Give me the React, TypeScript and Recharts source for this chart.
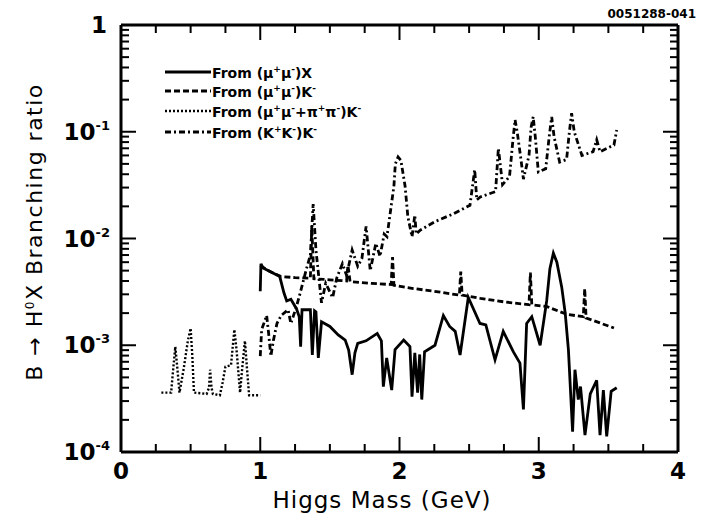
import React from 'react';
import { ComposedChart, Line, XAxis, YAxis, ReferenceLine } from 'recharts';

// ---- data (Higgs mass in GeV, branching ratio) ----
const incMass = [1.0, 1.005, 1.02, 1.07, 1.14, 1.17, 1.19, 1.22, 1.26, 1.28, 1.29, 1.3, 1.36, 1.374, 1.39, 1.4, 1.417, 1.44, 1.5, 1.56, 1.61, 1.635, 1.66, 1.68, 1.7, 1.76, 1.84, 1.87, 1.884, 1.908, 1.944, 1.968, 2.03, 2.075, 2.09, 2.11, 2.13, 2.145, 2.16, 2.18, 2.255, 2.315, 2.36, 2.4, 2.435, 2.494, 2.578, 2.62, 2.686, 2.745, 2.817, 2.865, 2.89, 2.913, 2.95, 3.01, 3.057, 3.08, 3.105, 3.13, 3.165, 3.19, 3.213, 3.243, 3.26, 3.284, 3.3, 3.332, 3.37, 3.416, 3.44, 3.464, 3.488, 3.52, 3.56];
const incBR = [3.2e-3, 5.8e-3, 5.3e-3, 4.9e-3, 4.4e-3, 3.1e-3, 2.6e-3, 2.7e-3, 2.2e-3, 1.85e-3, 9.7e-4, 2.15e-3, 2.15e-3, 8.1e-4, 2.1e-3, 2.05e-3, 7.6e-4, 1.66e-3, 1.5e-3, 1.25e-3, 1.12e-3, 9e-4, 5.3e-4, 8.5e-4, 1.04e-3, 1.1e-3, 1.29e-3, 1.1e-3, 4.1e-4, 7.6e-4, 3.8e-4, 9.1e-4, 1.12e-3, 9.7e-4, 3.3e-4, 8.5e-4, 3.6e-4, 8.2e-4, 3.1e-4, 8.7e-4, 1.0e-3, 1.9e-3, 1.5e-3, 1.35e-3, 8.1e-4, 2.8e-3, 1.6e-3, 1.55e-3, 7.3e-4, 1.35e-3, 8.7e-4, 6.8e-4, 2.5e-4, 1.6e-3, 1.85e-3, 1.0e-3, 2.6e-3, 5.2e-3, 7.3e-3, 6.0e-3, 3.5e-3, 2.0e-3, 9.1e-4, 1.55e-4, 5.9e-4, 3.1e-4, 4.1e-4, 1.44e-4, 3.5e-4, 4.7e-4, 1.44e-4, 3.8e-4, 1.4e-4, 3.7e-4, 4.0e-4];

const muKMass = [1.0, 1.07, 1.15, 1.25, 1.36, 1.37, 1.385, 1.5, 1.62, 1.63, 1.645, 1.8, 1.94, 1.95, 1.96, 2.1, 2.25, 2.43, 2.44, 2.45, 2.58, 2.75, 2.93, 2.94, 2.95, 3.06, 3.2, 3.32, 3.33, 3.34, 3.45, 3.54];
const muKBR = [5.6e-3, 4.9e-3, 4.4e-3, 4.3e-3, 4.25e-3, 1.3e-2, 4.2e-3, 4.1e-3, 4.0e-3, 5.6e-3, 3.95e-3, 3.8e-3, 3.7e-3, 6.7e-3, 3.65e-3, 3.4e-3, 3.2e-3, 2.95e-3, 4.9e-3, 2.95e-3, 2.75e-3, 2.55e-3, 2.4e-3, 4.8e-3, 2.4e-3, 2.3e-3, 1.95e-3, 1.85e-3, 3.4e-3, 1.8e-3, 1.6e-3, 1.45e-3];

const pipiMass = [0.29, 0.36, 0.375, 0.39, 0.405, 0.42, 0.45, 0.48, 0.5, 0.512, 0.524, 0.615, 0.632, 0.64, 0.65, 0.66, 0.71, 0.73, 0.75, 0.79, 0.814, 0.83, 0.855, 0.87, 0.89, 0.905, 0.92, 1.0];
const pipiBR = [3.6e-4, 3.6e-4, 6e-4, 9.7e-4, 6e-4, 3.6e-4, 6e-4, 1.1e-3, 1.44e-3, 8e-4, 3.6e-4, 3.5e-4, 4e-4, 5.9e-4, 4e-4, 3.5e-4, 3.4e-4, 4.5e-4, 6.3e-4, 6.5e-4, 1.4e-3, 9e-4, 3.6e-4, 6e-4, 1.1e-3, 6e-4, 3.4e-4, 3.4e-4];

const kkMass = [1.0, 1.01, 1.046, 1.06, 1.076, 1.094, 1.12, 1.15, 1.2, 1.22, 1.26, 1.29, 1.33, 1.36, 1.38, 1.4, 1.44, 1.47, 1.52, 1.55, 1.59, 1.62, 1.66, 1.7, 1.73, 1.76, 1.79, 1.83, 1.86, 1.89, 1.91, 1.94, 1.96, 1.97, 1.99, 2.01, 2.04, 2.06, 2.09, 2.11, 2.12, 2.15, 2.255, 2.386, 2.506, 2.54, 2.555, 2.58, 2.69, 2.71, 2.74, 2.79, 2.815, 2.83, 2.845, 2.87, 2.89, 2.93, 2.945, 2.96, 2.975, 2.997, 3.05, 3.075, 3.093, 3.11, 3.15, 3.2, 3.22, 3.236, 3.255, 3.31, 3.39, 3.416, 3.44, 3.51, 3.54, 3.56];
const kkBR = [7.9e-4, 1.4e-3, 1.9e-3, 1.3e-3, 7.9e-4, 1.1e-3, 1.6e-3, 1.9e-3, 2.15e-3, 1.6e-3, 2.3e-3, 3.2e-3, 5.1e-3, 7e-3, 2.1e-2, 7.8e-3, 2.5e-3, 3.8e-3, 2.8e-3, 4.3e-3, 5.8e-3, 4.5e-3, 7.8e-3, 5.5e-3, 6.5e-3, 1.3e-2, 5e-3, 9e-3, 6.8e-3, 1.1e-2, 1.04e-2, 2e-2, 3.1e-2, 5.0e-2, 5.8e-2, 5.4e-2, 3.1e-2, 1.6e-2, 1.04e-2, 1.66e-2, 1.1e-2, 1.2e-2, 1.44e-2, 1.7e-2, 2.05e-2, 4.4e-2, 2.3e-2, 2.45e-2, 2.75e-2, 7e-2, 3.2e-2, 3.8e-2, 8.5e-2, 0.129, 1.0e-1, 5.8e-2, 3.6e-2, 6e-2, 1.1e-1, 0.138, 9e-2, 4.2e-2, 4.5e-2, 9e-2, 0.138, 9e-2, 5.2e-2, 5.5e-2, 1.0e-1, 0.149, 1.0e-1, 6e-2, 6.5e-2, 8.4e-2, 6.5e-2, 7.2e-2, 7.5e-2, 0.104];

// ---- axes ----
const xLabelTicks = [0, 1, 2, 3, 4];
const xMajorInner = [1, 2, 3];
const xMinorInner = [0.25, 0.5, 0.75, 1.25, 1.5, 1.75, 2.25, 2.5, 2.75, 3.25, 3.5, 3.75];
const yDecades = [1e-4, 1e-3, 1e-2, 1e-1, 1];
const yDecadeExp = ['-4', '-3', '-2', '-1', ''];
const yMajorInner = [1e-3, 1e-2, 1e-1];
const yMinorMult = [2, 3, 4, 5, 6, 7, 8, 9];
const yMinorInner = yDecades.slice(0, 4).flatMap((d) => yMinorMult.map((m) => m * d));

const X_MIN = 0, X_MAX = 4, Y_MIN = 1e-4, Y_MAX = 1;
const PLOT_W = 557, PLOT_H = 427; // plot area in pixels
const MAJOR_LEN = 15, MINOR_LEN = 8; // tick lengths in pixels
// tick lengths expressed in axis units
const xSpan = (px: number) => (px / PLOT_W) * (X_MAX - X_MIN);
const yFactor = (px: number) => Math.pow(10, (px / PLOT_H) * Math.log10(Y_MAX / Y_MIN));

type Seg = { key: string; a: { x: number; y: number }; b: { x: number; y: number } };
const tickSegments: Seg[] = [
  ...xMajorInner.flatMap((x) => [
    { key: `bM${x}`, a: { x, y: Y_MIN }, b: { x, y: Y_MIN * yFactor(MAJOR_LEN) } },
    { key: `tM${x}`, a: { x, y: Y_MAX }, b: { x, y: Y_MAX / yFactor(MAJOR_LEN) } },
  ]),
  ...xMinorInner.flatMap((x) => [
    { key: `bm${x}`, a: { x, y: Y_MIN }, b: { x, y: Y_MIN * yFactor(MINOR_LEN) } },
    { key: `tm${x}`, a: { x, y: Y_MAX }, b: { x, y: Y_MAX / yFactor(MINOR_LEN) } },
  ]),
  ...yMajorInner.flatMap((y) => [
    { key: `lM${y}`, a: { x: X_MIN, y }, b: { x: X_MIN + xSpan(MAJOR_LEN), y } },
    { key: `rM${y}`, a: { x: X_MAX, y }, b: { x: X_MAX - xSpan(MAJOR_LEN), y } },
  ]),
  ...yMinorInner.flatMap((y) => [
    { key: `lm${y}`, a: { x: X_MIN, y }, b: { x: X_MIN + xSpan(MINOR_LEN), y } },
    { key: `rm${y}`, a: { x: X_MAX, y }, b: { x: X_MAX - xSpan(MINOR_LEN), y } },
  ]),
];

const legendItems = [
  { key: 'inc', name: ['From  (μ', '+', 'μ', '-', ')X'], dash: undefined, width: 2.8 },
  { key: 'muK', name: ['From  (μ', '+', 'μ', '-', ')K', '-'], dash: '6 3', width: 2.8 },
  { key: 'pipi', name: ['From  (μ', '+', 'μ', '-', '+π', '+', 'π', '-', ')K', '-'], dash: '2 2', width: 2.4 },
  { key: 'kk', name: ['From  (K', '+', 'K', '-', ')K', '-'], dash: '6 3 2 3', width: 2.8 },
];

const pts = (xs: number[], ys: number[]) => xs.map((x, i) => ({ x, y: ys[i] }));
const incData = pts(incMass, incBR);
const muKData = pts(muKMass, muKBR);
const pipiData = pts(pipiMass, pipiBR);
const kkData = pts(kkMass, kkBR);

const FONT = '"DejaVu Sans", sans-serif';
const near = (a: number, b: number) => Math.abs(a - b) <= Math.abs(b) * 1e-6 + 1e-12;
const frameLine = { stroke: '#000', strokeWidth: 3 };

const XTick = (props: any) => {
  const { x, y, payload } = props;
  return (
    <text x={x} y={y + 27} textAnchor="middle" fontFamily={FONT} fontSize={23} fontWeight="bold" fill="#000">
      {payload.value}
    </text>
  );
};

const YTick = (props: any) => {
  const { x, y, payload } = props;
  const idx = yDecades.findIndex((d) => near(payload.value, d));
  const exp = idx >= 0 ? yDecadeExp[idx] : '';
  if (!exp) {
    return (
      <text x={x - 14} y={y + 8} textAnchor="end" fontFamily={FONT} fontSize={23} fontWeight="bold" fill="#000">1</text>
    );
  }
  return (
    <text x={x - 11} y={y + 8} textAnchor="end" fontFamily={FONT} fontSize={23} fontWeight="bold" fill="#000">
      <tspan>10</tspan>
      <tspan dy={-10} fontSize={13}>{exp}</tspan>
    </text>
  );
};

export default function App() {
  return (
    <div style={{ position: 'relative', width: 690, height: 510 }}>
      <ComposedChart width={690} height={510} margin={{ top: 0, right: 0, left: 0, bottom: 26 }}>
        <XAxis xAxisId="b" dataKey="x" type="number" domain={[X_MIN, X_MAX]} allowDataOverflow ticks={xLabelTicks} interval={0}
          tickLine={false} tickSize={0} tickMargin={0} axisLine={frameLine} tick={<XTick />} height={40} />
        <XAxis xAxisId="t" type="number" domain={[X_MIN, X_MAX]} allowDataOverflow ticks={xLabelTicks} orientation="top"
          tickLine={false} tick={false} axisLine={frameLine} height={17} />
        <YAxis yAxisId="l" dataKey="y" type="number" scale="log" domain={[Y_MIN, Y_MAX]} allowDataOverflow ticks={yDecades} interval={0}
          tickLine={false} tickSize={0} tickMargin={0} axisLine={frameLine} tick={<YTick />} width={113} />
        <YAxis yAxisId="r" type="number" scale="log" domain={[Y_MIN, Y_MAX]} allowDataOverflow ticks={yDecades} orientation="right"
          tickLine={false} tick={false} axisLine={frameLine} width={20} />

        {tickSegments.map((s) => (
          <ReferenceLine key={s.key} xAxisId="b" yAxisId="l" segment={[s.a, s.b]} stroke="#000" strokeWidth={2}
            ifOverflow="visible" />
        ))}

        <Line xAxisId="b" yAxisId="l" data={pipiData} dataKey="y" type="linear" stroke="#000" strokeWidth={2.4}
          strokeDasharray="2 2" dot={false} isAnimationActive={false} />
        <Line xAxisId="b" yAxisId="l" data={kkData} dataKey="y" type="linear" stroke="#000" strokeWidth={2.8}
          strokeDasharray="6 3 2 3" dot={false} isAnimationActive={false} />
        <Line xAxisId="b" yAxisId="l" data={muKData} dataKey="y" type="linear" stroke="#000" strokeWidth={2.8}
          strokeDasharray="6 3" dot={false} isAnimationActive={false} />
        <Line xAxisId="b" yAxisId="l" data={incData} dataKey="y" type="linear" stroke="#000" strokeWidth={2.8}
          dot={false} isAnimationActive={false} />
      </ComposedChart>

      {/* legend */}
      {legendItems.map((item, i) => {
        const top = [56, 75, 95, 116][i];
        return (
          <div key={item.key} style={{ position: 'absolute', left: 157, top, height: 16, display: 'flex', alignItems: 'center', whiteSpace: 'nowrap' }}>
            <svg width={46} height={16} style={{ display: 'block' }}>
              <line x1={0} y1={8} x2={46} y2={8} stroke="#000" strokeWidth={item.width} strokeDasharray={item.dash} />
            </svg>
            <span style={{ fontFamily: FONT, fontSize: 14, fontWeight: 'bold', color: '#000', marginLeft: 1 }}>
              {item.name.map((part, j) =>
                j % 2 === 1 ? <sup key={j} style={{ fontSize: 9 }}>{part}</sup> : <span key={j}>{part}</span>
              )}
            </span>
          </div>
        );
      })}

      {/* axis titles */}
      <div style={{ position: 'absolute', left: 0, top: 0, width: 690, height: 510, pointerEvents: 'none' }}>
        <svg width={690} height={510}>
          <text x={374} y={500} textAnchor="middle" fontFamily={FONT} fontSize={23} letterSpacing={1} fill="#000">Higgs Mass (GeV)</text>
          <text transform="translate(34,224) rotate(-90)" textAnchor="middle" fontFamily={FONT} fontSize={22} letterSpacing={1.5} fill="#000">
            <tspan>B → H</tspan>
            <tspan dy={-8} fontSize={12}>0</tspan>
            <tspan dy={8}>X  Branching  ratio</tspan>
          </text>
          <text x={688} y={10} textAnchor="end" fontFamily={FONT} fontSize={12} fontWeight="bold" fill="#000">0051288-041</text>
        </svg>
      </div>
    </div>
  );
}
